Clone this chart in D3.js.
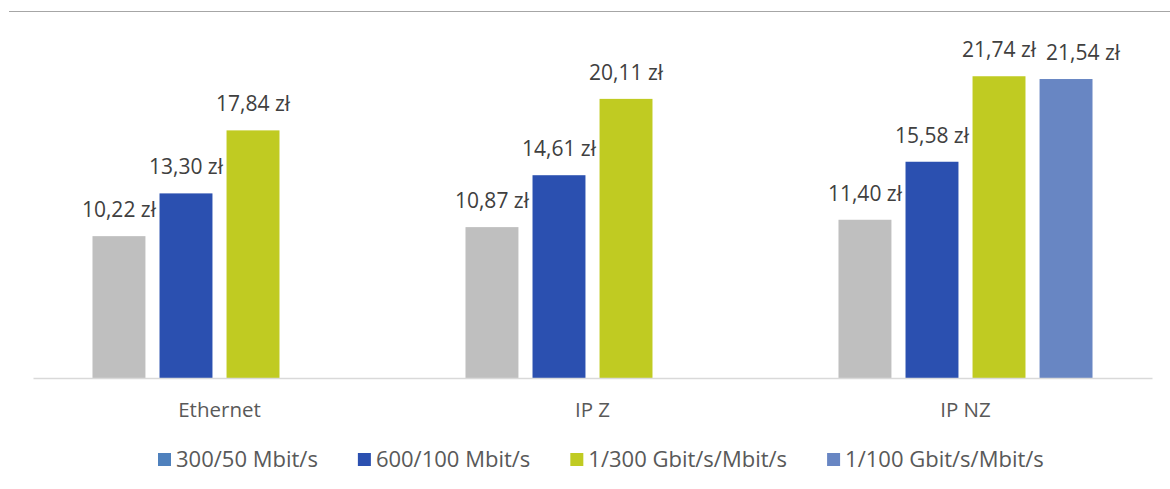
<!DOCTYPE html>
<html>
<head>
<meta charset="utf-8">
<script src="https://cdn.jsdelivr.net/npm/d3@7"></script>
<style>
  body { margin: 0; background: #fff; }
  svg { display: block; font-family: "Open Sans", "Noto Sans", sans-serif; }
</style>
</head>
<body>
<svg id="chart" width="1170" height="489"></svg>
<script>
// categories and series
var categories = ["Ethernet", "IP Z", "IP NZ"];
var seriesNames = ["300/50 Mbit/s", "600/100 Mbit/s", "1/300 Gbit/s/Mbit/s", "1/100 Gbit/s/Mbit/s"];
var barColors = ["#bfbfbf", "#2b50b0", "#c0cb22", "#6886c3"];
var legendColors = ["#4f81bd", "#2b50b0", "#c0cb22", "#6886c3"];

var s300 = [10.22, 10.87, 11.40];
var s600 = [13.30, 14.61, 15.58];
var s1g300 = [17.84, 20.11, 21.74];
var s1g100 = [null, null, 21.54];
var seriesValues = [s300, s600, s1g300, s1g100];

var svg = d3.select("#chart");
var width = 1170, height = 489;

var x0 = d3.scaleBand()
    .domain(categories)
    .range([33, 1152])
    .padding(0);

var groupW = x0.bandwidth() * 0.681;
var gOff = (x0.bandwidth() - groupW) / 2;
var x1 = d3.scaleBand()
    .domain(d3.range(seriesNames.length))
    .range([gOff, gOff + groupW])
    .paddingInner(0.21)
    .paddingOuter(0);

var y = d3.scaleLinear()
    .domain([0, 25])
    .range([378, 31]);

function fmt(v) {
    return d3.format(".2f")(v).replace(".", ",") + " zł";
}

// top border line
svg.append("line")
    .attr("x1", 9).attr("x2", width)
    .attr("y1", 11.5).attr("y2", 11.5)
    .attr("stroke", "#a6a6a6").attr("stroke-width", 1.2);

// bars
var groups = svg.append("g").selectAll("g")
    .data(categories)
    .enter().append("g")
    .attr("transform", function (c) { return "translate(" + x0(c) + ",0)"; });

groups.each(function (c, ci) {
    var g = d3.select(this);
    seriesValues.forEach(function (vals, si) {
        var v = vals[ci];
        if (v == null) return;
        g.append("rect")
            .attr("x", x1(si))
            .attr("y", y(v))
            .attr("width", x1.bandwidth())
            .attr("height", y(0) - y(v))
            .attr("fill", barColors[si]);
        // last label was nudged right in the original so it doesn't collide
        var nudge = (si == 3) ? 17 : 0;
        g.append("text")
            .attr("x", x1(si) + x1.bandwidth() / 2 + nudge)
            .attr("y", y(v) - 19)
            .attr("text-anchor", "middle")
            .attr("font-size", "21px")
            .attr("fill", "#404040")
            .text(fmt(v));
    });
});

// x axis
var xAxis = svg.append("g")
    .attr("transform", "translate(0," + y(0) + ")")
    .call(d3.axisBottom(x0).tickSize(0).tickPadding(0));
xAxis.select(".domain").attr("stroke", "#d9d9d9").attr("stroke-width", 1.5);
xAxis.selectAll("text")
    .attr("y", 39)
    .attr("dy", 0)
    .attr("font-size", "20.5px")
    .attr("font-family", "Open Sans, Noto Sans, sans-serif")
    .attr("fill", "#595959");

// legend
var legend = svg.append("g");
var lx = 158;
seriesNames.forEach(function (name, i) {
    legend.append("rect")
        .attr("x", lx).attr("y", 453)
        .attr("width", 13).attr("height", 13)
        .attr("fill", legendColors[i]);
    var t = legend.append("text")
        .attr("x", lx + 18).attr("y", 467)
        .attr("font-size", "22px")
        .attr("fill", "#595959")
        .text(name);
    lx += 18 + t.node().getComputedTextLength() + 40;
});
</script>
</body>
</html>
